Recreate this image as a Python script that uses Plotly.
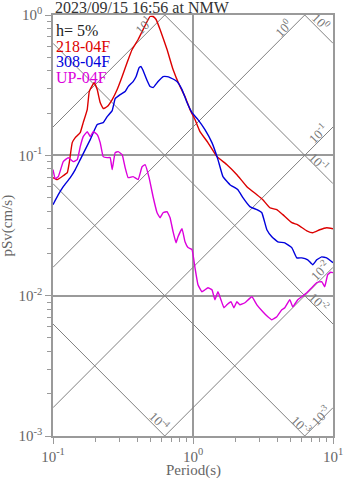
import math
import plotly.graph_objects as go

# ---- data ----
red_T = [0.100, 0.1073, 0.1184, 0.1265, 0.1307, 0.1372, 0.1442, 0.1565, 0.1644, 0.1756, 0.1815, 0.1906,
         0.1970, 0.2069, 0.2173, 0.2283, 0.2438, 0.2647, 0.2873, 0.3119, 0.3385, 0.3674, 0.4055, 0.4402,
         0.4700, 0.4937, 0.5187, 0.5451, 0.5818, 0.6527, 0.7204, 0.8079, 0.8770, 0.9520, 1.0335, 1.1216,
         1.2790, 1.4832, 1.7470, 2.0589, 2.4262, 2.8590, 3.1542, 3.5387, 3.9695, 4.3806, 5.0768, 5.6030,
         6.4957, 7.1668, 8.0380, 9.0163, 10.0]
red_V = [0.0693, 0.0671, 0.0716, 0.0752, 0.0887, 0.1232, 0.1338, 0.1452, 0.1711, 0.2118, 0.2846, 0.3141,
         0.3300, 0.2941, 0.2376, 0.2153, 0.2225, 0.2496, 0.2941, 0.3641, 0.4582, 0.5674, 0.6687, 0.7883,
         0.8988, 0.9757, 0.9757, 0.9288, 0.7883, 0.5674, 0.4087, 0.3090, 0.2622, 0.2118, 0.1798, 0.1476,
         0.1232, 0.0979, 0.0858, 0.0728, 0.0598, 0.0524, 0.0483, 0.0423, 0.0410, 0.0378, 0.0331, 0.0320,
         0.0290, 0.0281, 0.0295, 0.0305, 0.0300]

blue_T = [0.100, 0.1091, 0.1184, 0.1328, 0.1442, 0.1565, 0.1699, 0.1845, 0.2069, 0.2283, 0.2438, 0.2647,
          0.2780, 0.3018, 0.3276, 0.3441, 0.3735, 0.3924, 0.4122, 0.4259, 0.4402, 0.4700, 0.4937, 0.5187,
          0.5629, 0.6113, 0.6527, 0.6858, 0.7691, 0.8348, 0.9063, 0.9837, 1.0853, 1.2174, 1.3656, 1.5077,
          1.6365, 1.8355, 2.0929, 2.2721, 2.5486, 2.8590, 3.1030, 3.3689, 3.6568, 4.0350, 4.5265, 5.0768,
          5.5121, 5.9837, 6.6029, 7.1668, 7.6554, 8.3060, 9.0163, 10.0]
blue_V = [0.0445, 0.0524, 0.0598, 0.0693, 0.0791, 0.0932, 0.1098, 0.1294, 0.1656, 0.1711, 0.1888, 0.2084,
          0.2538, 0.2710, 0.2846, 0.3090, 0.3355, 0.3641, 0.4220, 0.4292, 0.4019, 0.3410, 0.3090, 0.3040,
          0.3355, 0.3641, 0.3641, 0.3582, 0.3355, 0.2941, 0.2376, 0.2016, 0.1798, 0.1525, 0.1232, 0.0932,
          0.0705, 0.0618, 0.0569, 0.0499, 0.0431, 0.0410, 0.0390, 0.0295, 0.0263, 0.0242, 0.0238, 0.0220,
          0.0186, 0.0186, 0.0180, 0.0166, 0.0180, 0.0189, 0.0186, 0.0172]

mag_T = [0.100, 0.1038, 0.1091, 0.1184, 0.1285, 0.1395, 0.1490, 0.1565, 0.1644, 0.1756, 0.1845, 0.1938,
         0.2069, 0.2173, 0.2283, 0.2438, 0.2561, 0.2647, 0.2780, 0.2921, 0.3119, 0.3276, 0.3441, 0.3735,
         0.4055, 0.4330, 0.4549, 0.4857, 0.5187, 0.5539, 0.5818, 0.6113, 0.6527, 0.6858, 0.7204, 0.7566,
         0.7818, 0.8348, 0.8770, 0.9212, 0.9837, 1.0335, 1.0853, 1.1590, 1.2174, 1.2790, 1.3656, 1.4346,
         1.5077, 1.5838, 1.6634, 1.7470, 1.8659, 1.9601, 2.0589, 2.1627, 2.3478, 2.6335, 2.8590, 3.1542,
         3.4245, 3.6568, 3.9695, 4.3086, 4.5265, 4.9132, 5.1606, 5.6030, 5.9837, 6.4957, 7.0505, 7.6554,
         8.3060, 8.7244, 9.1648, 9.6296, 10.0]
mag_V = [0.0791, 0.0682, 0.0705, 0.0902, 0.0963, 0.0902, 0.0932, 0.1153, 0.1360, 0.1476, 0.1360, 0.1476,
         0.1405, 0.1232, 0.0979, 0.0963, 0.0963, 0.0791, 0.1045, 0.1063, 0.1012, 0.0817, 0.0693, 0.0705,
         0.0671, 0.0830, 0.0858, 0.0693, 0.0507, 0.0390, 0.0359, 0.0390, 0.0397, 0.0359, 0.0286, 0.0238,
         0.0263, 0.0300, 0.0242, 0.0220, 0.0213, 0.0158, 0.01196, 0.01066, 0.01102, 0.01138, 0.01102, 0.00935,
         0.01066, 0.00935, 0.00820, 0.00861, 0.00905, 0.00820, 0.00905, 0.00861, 0.00890, 0.00982, 0.00861, 0.00768,
         0.00707, 0.00673, 0.00707, 0.00793, 0.00820, 0.00935, 0.00833, 0.00935, 0.00982, 0.01049, 0.01138, 0.0124,
         0.0126, 0.01157, 0.0141, 0.01468, 0.0146]

series_names = ["218-04F", "308-04F", "UP-04F"]
series_colors = ["rgb(220,0,0)", "rgb(0,0,220)", "rgb(220,0,220)"]

accel_levels = [10, 1, 0.1, 0.01, 0.001]        # rising tripartite lines
disp_levels = [1, 0.1, 0.01, 0.001, 0.0001]     # falling tripartite lines

x_ticks = [0.1, 1, 10]
x_ticktext = ["10<sup>-1</sup>", "10<sup>0</sup>", "10<sup>1</sup>"]
y_ticks = [0.001, 0.01, 0.1, 1]
y_ticktext = ["10<sup>-3</sup>", "10<sup>-2</sup>", "10<sup>-1</sup>", "10<sup>0</sup>"]

title_text = "2023/09/15 16:56 at NMW"
damping_text = "h= 5%"

# label positions for tripartite lines (period, pSv)
rise_labels = [("10<sup>1</sup>", 0.440, 0.855), ("10<sup>0</sup>", 4.38, 0.814),
               ("10<sup>-1</sup>", 7.78, 0.1452), ("10<sup>-2</sup>", 8.04, 0.0153),
               ("10<sup>-3</sup>", 8.17, 0.001414)]
fall_labels = [("10<sup>0</sup>", 8.17, 0.899), ("10<sup>-1</sup>", 8.04, 0.0902),
               ("10<sup>-2</sup>", 8.04, 0.00905), ("10<sup>-3</sup>", 5.98, 0.0012),
               ("10<sup>-4</sup>", 0.58, 0.00128)]

FONT = "Liberation Serif, Times New Roman, serif"
GRID = "#9a9a9a"
DIAG = "#808080"

fig = go.Figure()
tw = 2 * math.pi
T_ends = [0.1, 10]
for a in accel_levels:
    fig.add_trace(go.Scatter(x=T_ends, y=[a * t / tw for t in T_ends], mode="lines",
                             line=dict(color=DIAG, width=1), showlegend=False, hoverinfo="skip"))
for d in disp_levels:
    fig.add_trace(go.Scatter(x=T_ends, y=[tw * d / t for t in T_ends], mode="lines",
                             line=dict(color=DIAG, width=1), showlegend=False, hoverinfo="skip"))

for T, V, name, col in zip([red_T, blue_T, mag_T], [red_V, blue_V, mag_V], series_names, series_colors):
    fig.add_trace(go.Scatter(x=T, y=V, mode="lines", name=name,
                             line=dict(color=col, width=1.4, shape="spline", smoothing=0.3),
                             showlegend=False))

ann = []
for txt, t, v in rise_labels:
    ann.append(dict(x=math.log10(t), y=math.log10(v), xref="x", yref="y", text=txt, showarrow=False,
                    textangle=-45, font=dict(family=FONT, size=13, color="#777")))
for txt, t, v in fall_labels:
    ann.append(dict(x=math.log10(t), y=math.log10(v), xref="x", yref="y", text=txt, showarrow=False,
                    textangle=45, font=dict(family=FONT, size=13, color="#777")))

ann.append(dict(x=0, y=1, xref="paper", yref="paper", xanchor="left", yanchor="bottom", yshift=-3,
                text=title_text, showarrow=False, font=dict(family=FONT, size=16, color="#333")))
legend_items = [(damping_text, "#222")] + list(zip(series_names, series_colors))
for i, (txt, col) in enumerate(legend_items):
    ann.append(dict(x=0, y=1, xref="paper", yref="paper", xanchor="left", yanchor="top",
                    xshift=1, yshift=-5 - 15.5 * i, text=txt, showarrow=False,
                    font=dict(family=FONT, size=16, color=col)))
ann.append(dict(x=0.5, y=0, xref="paper", yref="paper", xanchor="center", yanchor="top", yshift=-24,
                text="Period(s)", showarrow=False, font=dict(family=FONT, size=15, color="#666")))
ann.append(dict(x=0, y=0.5, xref="paper", yref="paper", xanchor="center", yanchor="middle", xshift=-46,
                text="pSv(cm/s)", textangle=-90, showarrow=False, font=dict(family=FONT, size=15, color="#666")))

minor_x = [m * 10 ** e for e in (-1, 0) for m in range(2, 10)]
minor_y = [m * 10 ** e for e in (-3, -2, -1) for m in range(2, 10)]

axis_common = dict(type="log", showline=True, mirror=True, linecolor=GRID, linewidth=1.5,
                   showgrid=True, gridcolor=GRID, gridwidth=1.5, zeroline=False, automargin=False,
                   ticks="outside", ticklen=6, tickcolor=GRID, tickwidth=1,
                   tickfont=dict(family=FONT, size=15, color="#666"))

fig.update_layout(
    width=347, height=478,
    margin=dict(l=53, r=14, t=15, b=42, autoexpand=False),
    paper_bgcolor="white", plot_bgcolor="white",
    showlegend=False,
    annotations=ann,
    xaxis=dict(range=[-1, 1], tickvals=x_ticks, ticktext=x_ticktext,
               minor=dict(tickvals=minor_x, ticks="outside", ticklen=4, tickcolor=GRID, showgrid=False),
               **axis_common),
    yaxis=dict(range=[-3, 0], tickvals=y_ticks, ticktext=y_ticktext,
               minor=dict(tickvals=minor_y, ticks="outside", ticklen=4, tickcolor=GRID, showgrid=False),
               **axis_common),
)

fig.write_html("out.html", config={"displayModeBar": False},
               post_script="document.body.style.margin='0px';document.body.style.padding='0px';")
